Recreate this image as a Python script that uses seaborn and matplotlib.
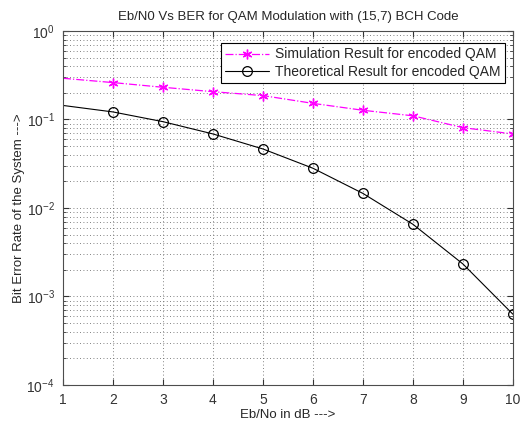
import numpy as np
import pandas as pd
import matplotlib
matplotlib.use("Agg")
import matplotlib.pyplot as plt
import seaborn as sns
from matplotlib.ticker import LogLocator, NullFormatter, FixedLocator

# Eb/No points in dB
ebno = [1, 2, 3, 4, 5, 6, 7, 8, 9, 10]
# BER
ber_sim = [0.292, 0.261, 0.231, 0.206, 0.186, 0.152, 0.127, 0.110, 0.0808, 0.0686]
ber_theory = [0.144, 0.1216, 0.0944, 0.0686, 0.0464, 0.0281, 0.0146, 0.00654, 0.00233, 0.00063]

sim_label = "Simulation Result for encoded QAM"
theory_label = "Theoretical Result for encoded QAM"

sns.set_style("white")
plt.rcParams['font.family'] = ['Liberation Sans', 'DejaVu Sans']
plt.rcParams['mathtext.fontset'] = 'custom'
plt.rcParams['mathtext.rm'] = 'Liberation Sans'
plt.rcParams['mathtext.it'] = 'Liberation Sans'

df = pd.DataFrame({'ebno': ebno, 'sim': ber_sim, 'theory': ber_theory})

fig = plt.figure(figsize=(5.25, 4.24), dpi=100)
ax = fig.add_axes([0.12, 0.092, 0.857, 0.835])

marks = list(range(1, len(ebno)))
sns.lineplot(data=df, x='ebno', y='sim', ax=ax, color='#ff00ff', linestyle='-.',
             linewidth=0.9, marker=(6, 2, 0), markersize=7, markevery=marks,
             markeredgecolor='#ff00ff', markeredgewidth=1.0, label=sim_label)
sns.lineplot(data=df, x='ebno', y='theory', ax=ax, color='black', linestyle='-',
             linewidth=0.8, marker='o', markersize=7, markevery=marks,
             markerfacecolor='none', markeredgecolor='black', markeredgewidth=0.9,
             label=theory_label)

ax.set_yscale('log')
ax.set_xlim(1, 10)
ax.set_ylim(1e-4, 1)
ax.xaxis.set_major_locator(FixedLocator(ebno))
ax.yaxis.set_major_locator(LogLocator(base=10, numticks=10))
ax.yaxis.set_minor_locator(LogLocator(base=10, subs=np.arange(2, 10), numticks=20))
ax.yaxis.set_minor_formatter(NullFormatter())

ax.grid(True, which='major', linestyle=(0, (1, 3)), color='0.35', linewidth=0.6)
ax.grid(True, which='minor', axis='y', linestyle=(0, (1, 3)), color='0.35', linewidth=0.6)

ax.tick_params(which='both', direction='in', top=True, right=True, bottom=True, left=True,
               labelsize=10, colors='0.2', pad=6)
ax.tick_params(which='major', length=4)
ax.tick_params(which='minor', length=2)
for s in ax.spines.values():
    s.set_color('0.3')
    s.set_linewidth(0.8)

ax.set_title("Eb/N0 Vs BER for QAM Modulation with (15,7) BCH Code", fontsize=9.5, pad=8)
ax.set_xlabel("Eb/No in dB --->", fontsize=9.5, labelpad=1)
ax.set_ylabel("Bit Error Rate of the System --->", fontsize=9.5, labelpad=10)
ax.yaxis.set_label_coords(-0.085, 0.5)

leg = ax.legend(loc='upper right', bbox_to_anchor=(0.997, 0.985), fontsize=10,
                frameon=True, fancybox=False, framealpha=1, edgecolor='black',
                handlelength=3.2, borderpad=0.3, labelspacing=0.25, handletextpad=0.4)
leg.get_frame().set_linewidth(0.8)

fig.savefig("out.png", dpi=100, facecolor='white')
